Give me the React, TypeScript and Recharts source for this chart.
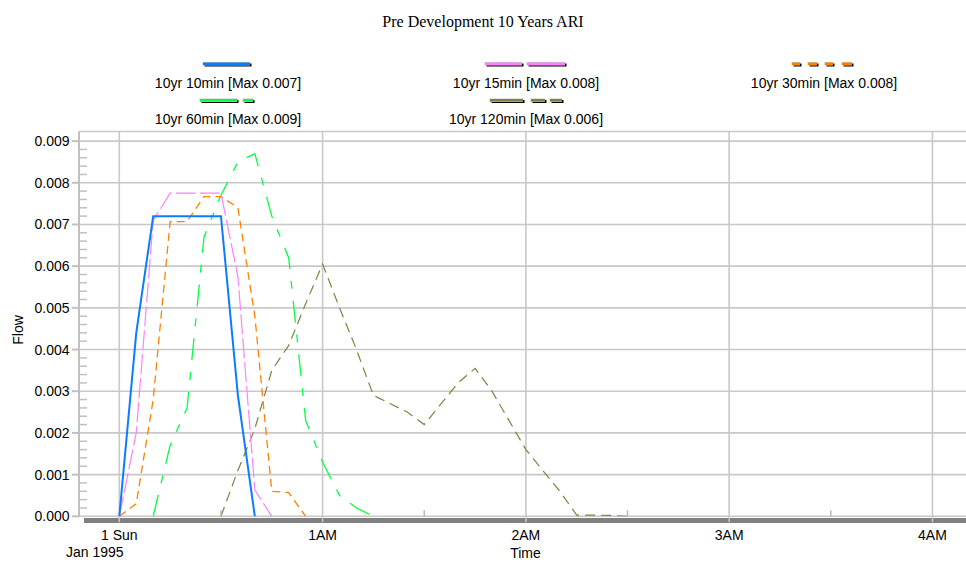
import React from 'react'
import { LineChart, Line, XAxis, YAxis, CartesianGrid } from 'recharts'

// time in minutes from 1 Sun Jan 1995 00:00, flow values
const t10 = [0, 5, 10, 15, 20, 25, 30, 35, 40]
const v10 = [0, 0.0044, 0.0072, 0.0072, 0.0072, 0.0072, 0.0072, 0.0029, 0]

const t15 = [0, 5, 10, 15, 20, 25, 30, 35, 40, 45]
const v15 = [0, 0.002, 0.0071, 0.00775, 0.00775, 0.00775, 0.00775, 0.00575, 0.00063, 0]

const t30 = [0, 5, 10, 15, 20, 25, 30, 35, 40, 45, 50, 55]
const v30 = [0, 0.0003, 0.0028, 0.00707, 0.00707, 0.00767, 0.00767, 0.0074, 0.0048, 0.0006, 0.00057, 0]

const t60 = [10, 15, 20, 25, 30, 35, 40, 45, 50, 55, 60, 65, 70, 75]
const v60 = [0, 0.0017, 0.0026, 0.0067, 0.0077, 0.0085, 0.0087, 0.0072, 0.0062, 0.0023, 0.0013, 0.0005, 0.0002, 0]

const t120 = [30, 35, 40, 45, 50, 55, 60, 65, 70, 75, 80, 85, 90, 95, 100, 105, 110, 115, 120, 125, 130, 135, 140, 145, 150]
const v120 = [0, 0.0011, 0.0021, 0.0035, 0.0041, 0.0051, 0.00605, 0.005, 0.004, 0.0029, 0.0027, 0.0025, 0.0022, 0.0027, 0.0032, 0.00355, 0.003, 0.0023, 0.0016, 0.0011, 0.0006, 0.00003, 0.00003, 0.00002, 0]

const seriesNames = [
    '10yr 10min [Max 0.007]',
    '10yr 15min [Max 0.008]',
    '10yr 30min [Max 0.008]',
    '10yr 60min [Max 0.009]',
    '10yr 120min [Max 0.006]'
]

const xMajorTicks = [0, 60, 120, 180, 240]
const xTickLabels = ['1 Sun', '1AM', '2AM', '3AM', '4AM']
const xMinorTicks = [30, 90, 150, 210]
const yMajorTicks = [0, 0.001, 0.002, 0.003, 0.004, 0.005, 0.006, 0.007, 0.008, 0.009]

const X_DOMAIN: [number, number] = [-11.9, 249.9]
const Y_MAX = 0.00923

const toPoints = (t: number[], v: number[]) => t.map((tt, i) => ({ t: tt, v: v[i] }))

const series = [
    { name: seriesNames[0], data: toPoints(t10, v10), color: '#0a7dff', width: 2, dash: undefined, legend: [[-23.5, 47]], cx: 226.5, row: 0 },
    { name: seriesNames[1], data: toPoints(t15, v15), color: '#ff80ff', width: 1.2, dash: '20 4', legend: [[-40, 37], [2, 38]], cx: 525, row: 0 },
    { name: seriesNames[2], data: toPoints(t30, v30), color: '#ff8000', width: 1.3, dash: '8 5', legend: [[-30, 8], [-14, 9], [3, 8], [20, 10]], cx: 822, row: 0 },
    { name: seriesNames[3], data: toPoints(t60, v60), color: '#00ff40', width: 1.3, dash: '22 12 8 12', legend: [[-26.5, 37], [16.5, 10]], cx: 226.5, row: 1 },
    { name: seriesNames[4], data: toPoints(t120, v120), color: '#808040', width: 1.2, dash: '10 6', legend: [[-36, 33], [5, 14], [24, 12]], cx: 526, row: 1 }
]

const legendTextX = [228, 526, 824]
const FONT = '"Liberation Sans", Arial, sans-serif'

const yTicks: number[] = []
for (let k = 0; k <= 45; k++) yTicks.push(Math.round(k * 2) / 10000)

const xTicks = [...xMajorTicks, ...xMinorTicks].sort((a, b) => a - b)

function YTick(props: any) {
    const { x, y, payload } = props
    const v = payload.value
    const major = Math.round(v * 10000) % 10 === 0
    if (major) {
        return (
            <g>
                <line x1={x - 7} x2={x} y1={y} y2={y} stroke="#c0c0c0" strokeWidth={2} />
                <text x={x - 9.5} y={y} dy={5} textAnchor="end" fontSize={14} fontFamily={FONT} fill="#000">
                    {v.toFixed(3)}
                </text>
            </g>
        )
    }
    return <line x1={x} x2={x + 8} y1={y} y2={y} stroke="#c0c0c0" strokeWidth={1.5} />
}

function XTick(props: any) {
    const { x, y, payload } = props
    const idx = xMajorTicks.indexOf(payload.value)
    if (idx < 0) {
        return <line x1={x} x2={x} y1={y - 6} y2={y} stroke="#b8b8b8" strokeWidth={1.5} />
    }
    return (
        <g>
            <line x1={x} x2={x} y1={y} y2={y + 6} stroke="#c8c8c8" strokeWidth={1.5} />
            <text x={x} y={y + 23.7} textAnchor="middle" fontSize={14} fontFamily={FONT} fill="#000">
                {xTickLabels[idx]}
            </text>
            {idx === 0 && (
                <text x={x - 24.5} y={y + 41} textAnchor="middle" fontSize={14} fontFamily={FONT} fill="#000">
                    Jan 1995
                </text>
            )}
        </g>
    )
}

export default function App() {
    return (
        <div style={{ position: 'absolute', left: 0, top: 0, width: 966, height: 562, background: '#fff', overflow: 'hidden' }}>
            <div style={{ position: 'absolute', left: 84, top: 518, width: 882, height: 4.5, background: '#808080' }} />
            <div style={{ position: 'absolute', left: 0, top: 0 }}>
                <LineChart width={966} height={562} margin={{ top: 131.5, right: 0, left: 0, bottom: 0 }}>
                    <CartesianGrid
                        stroke="#c8c8c8"
                        strokeWidth={1.6}
                        horizontalValues={[...yMajorTicks, Y_MAX]}
                        verticalValues={xMajorTicks}
                    />
                    <XAxis
                        type="number"
                        dataKey="t"
                        domain={X_DOMAIN}
                        allowDataOverflow
                        ticks={xTicks}
                        interval={0}
                        height={45.7}
                        axisLine={false}
                        tickLine={false}
                        tickSize={0}
                        tickMargin={0}
                        tick={<XTick />}
                        label={{ value: 'Time', position: 'insideBottom', offset: 4, dx: 3, fontSize: 14, fontFamily: FONT, fill: '#000' }}
                    />
                    <YAxis
                        type="number"
                        domain={[0, Y_MAX]}
                        allowDataOverflow
                        ticks={yTicks}
                        interval={0}
                        width={79}
                        axisLine={{ stroke: '#c0c0c0', strokeWidth: 2 }}
                        tickLine={false}
                        tickSize={0}
                        tickMargin={0}
                        tick={<YTick />}
                    />
                    {[...series].reverse().map((s) => (
                        <Line
                            key={s.name}
                            data={s.data}
                            dataKey="v"
                            name={s.name}
                            type="linear"
                            stroke={s.color}
                            strokeWidth={s.width}
                            strokeDasharray={s.dash}
                            dot={false}
                            activeDot={false}
                            isAnimationActive={false}
                        />
                    ))}
                </LineChart>
            </div>
            <svg width={966} height={562} style={{ position: 'absolute', left: 0, top: 0, pointerEvents: 'none' }}>
                <text x={483} y={27} textAnchor="middle" fontSize={16} fontFamily='"Liberation Serif", "Times New Roman", serif' fill="#000">
                    Pre Development 10 Years ARI
                </text>
                {series.map((s, i) => {
                    const ly = s.row === 0 ? 64 : 100.5
                    const ty = s.row === 0 ? 88 : 124
                    const tx = legendTextX[i % 3]
                    return (
                        <g key={s.name}>
                            {s.legend.map(([dx, len], j) => (
                                <g key={j}>
                                    <rect x={s.cx + dx + 1.5} y={ly - 0.5} width={len} height={3} fill="#000" />
                                    <rect x={s.cx + dx - 0.5} y={ly - 2} width={len + 0.5} height={3.5} fill="#c8c8c8" />
                                    <rect x={s.cx + dx} y={ly - 1.5} width={len} height={2.5} fill={s.color} />
                                </g>
                            ))}
                            <text x={tx} y={ty} textAnchor="middle" fontSize={14} fontFamily={FONT} fill="#000">
                                {s.name}
                            </text>
                        </g>
                    )
                })}
                <text x={0} y={0} transform="translate(22.5,330) rotate(-90)" textAnchor="middle" fontSize={14} fontFamily={FONT} fill="#000">
                    Flow
                </text>
            </svg>
        </div>
    )
}
